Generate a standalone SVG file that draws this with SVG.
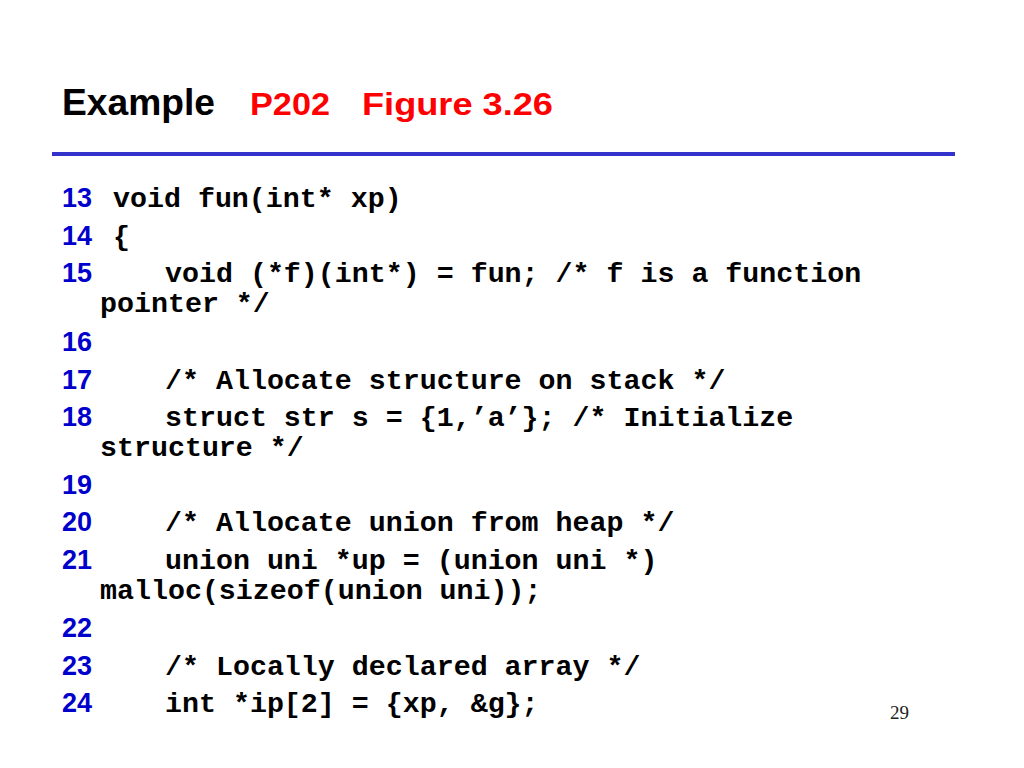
<svg xmlns="http://www.w3.org/2000/svg" width="1024" height="768" viewBox="0 0 1024 768">
<style>
.num{font-family:"Liberation Sans",Arial,sans-serif;font-weight:bold;font-size:27px;fill:#0000CC}
.code{font-family:"Liberation Mono","Courier New",monospace;font-weight:bold;font-size:28.3px;fill:#000}
.t{font-family:"Liberation Sans",Arial,sans-serif;font-weight:bold}
</style>
<rect width="1024" height="768" fill="#fff"/>
<g id="title">
<text class="t" x="62" y="115" font-size="37" fill="#000" textLength="153" lengthAdjust="spacingAndGlyphs">Example</text>
<text class="t" x="250" y="115" font-size="31" fill="#FF0000" textLength="80" lengthAdjust="spacingAndGlyphs">P202</text>
<text class="t" x="362" y="115" font-size="31" fill="#FF0000" textLength="191" lengthAdjust="spacingAndGlyphs">Figure 3.26</text>
</g>
<line x1="52" y1="154" x2="955" y2="154" stroke="#3333CC" stroke-width="4"/>
<g id="code">
<text class="num" x="62" y="207">13</text><text class="code" x="113" y="207">void fun(int* xp)</text>
<text class="num" x="62" y="245">14</text><text class="code" x="113" y="245">{</text>
<text class="num" x="62" y="282">15</text><text class="code" x="165" y="282">void (*f)(int*) = fun; /* f is a function</text>
<text class="code" x="100" y="312">pointer */</text>
<text class="num" x="62" y="351">16</text>
<text class="num" x="62" y="389">17</text><text class="code" x="165" y="389">/* Allocate structure on stack */</text>
<text class="num" x="62" y="426">18</text><text class="code" x="165" y="426">struct str s = {1,’a’}; /* Initialize</text>
<text class="code" x="100" y="456">structure */</text>
<text class="num" x="62" y="494">19</text>
<text class="num" x="62" y="531">20</text><text class="code" x="165" y="531">/* Allocate union from heap */</text>
<text class="num" x="62" y="569">21</text><text class="code" x="165" y="569">union uni *up = (union uni *)</text>
<text class="code" x="100" y="599">malloc(sizeof(union uni));</text>
<text class="num" x="62" y="637">22</text>
<text class="num" x="62" y="675">23</text><text class="code" x="165" y="675">/* Locally declared array */</text>
<text class="num" x="62" y="712">24</text><text class="code" x="165" y="712">int *ip[2] = {xp, &amp;g};</text>
</g>
<text x="890" y="719" font-family="Liberation Serif,'Times New Roman',serif" font-size="19" fill="#222">29</text>
</svg>
